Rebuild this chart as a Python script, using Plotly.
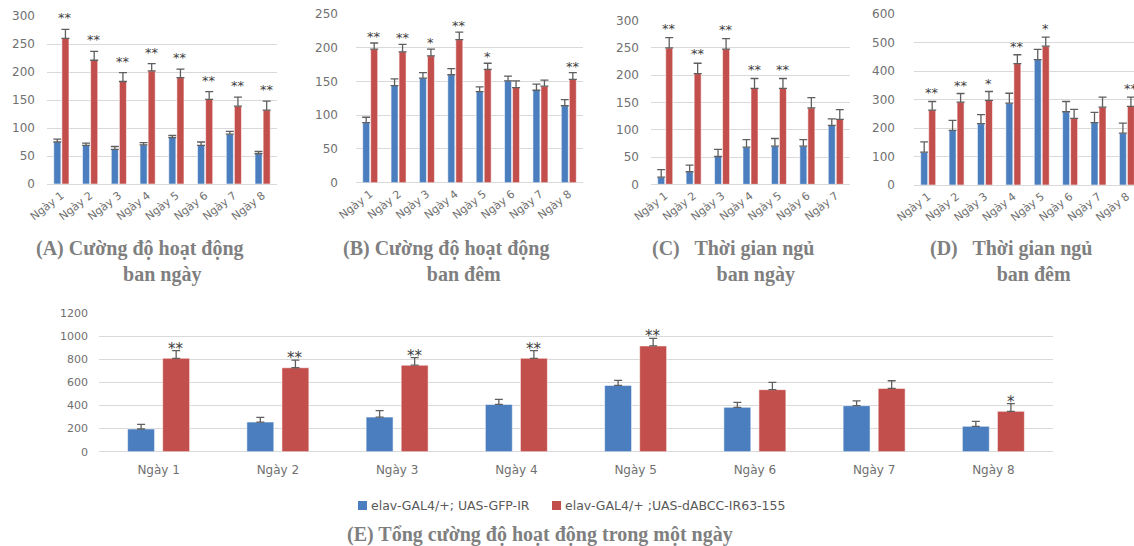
import plotly.graph_objects as go

# ---------------- data ----------------
days8 = ["Ngày 1", "Ngày 2", "Ngày 3", "Ngày 4", "Ngày 5", "Ngày 6", "Ngày 7", "Ngày 8"]
days7 = ["Ngày 1", "Ngày 2", "Ngày 3", "Ngày 4", "Ngày 5", "Ngày 6", "Ngày 7"]

series_names = ["elav-GAL4/+; UAS-GFP-IR", "elav-GAL4/+ ;UAS-dABCC-IR63-155"]

# (A) Cường độ hoạt động ban ngày
A_ctrl = [75, 69, 62, 70, 83, 69, 89, 54]
A_ctrl_err = [5, 4, 5, 4, 4, 6, 5, 4]
A_kd = [260, 221, 183, 202, 190, 151, 139, 132]
A_kd_err = [16, 16, 16, 13, 15, 14, 16, 16]
A_sig = ["**", "**", "**", "**", "**", "**", "**", "**"]

# (B) Cường độ hoạt động ban đêm
B_ctrl = [89, 144, 155, 160, 135, 151, 137, 114]
B_ctrl_err = [8, 10, 8, 9, 7, 7, 9, 9]
B_kd = [198, 194, 188, 212, 168, 141, 143, 153]
B_kd_err = [9, 11, 10, 11, 9, 10, 9, 10]
B_sig = ["**", "**", "*", "**", "*", "", "", "**"]

# (C) Thời gian ngủ ban ngày
C_ctrl = [13, 23, 51, 68, 70, 70, 108]
C_ctrl_err = [14, 12, 13, 14, 14, 12, 12]
C_kd = [250, 203, 248, 176, 176, 140, 119]
C_kd_err = [19, 19, 19, 18, 18, 19, 18]
C_sig = ["**", "**", "**", "**", "**", "", ""]

# (D) Thời gian ngủ ban đêm
D_ctrl = [115, 192, 215, 287, 440, 257, 219, 182]
D_ctrl_err = [36, 35, 32, 35, 36, 36, 36, 35]
D_kd = [263, 291, 297, 426, 487, 234, 273, 276]
D_kd_err = [30, 30, 31, 31, 32, 31, 35, 32]
D_sig = ["**", "**", "*", "**", "*", "", "", "**"]

# (E) Tổng cường độ hoạt động trong một ngày
E_ctrl = [197, 257, 300, 410, 575, 385, 399, 220]
E_ctrl_err = [40, 40, 57, 44, 44, 43, 41, 43]
E_kd = [810, 728, 750, 810, 917, 538, 549, 350]
E_kd_err = [67, 66, 66, 67, 66, 63, 66, 66]
E_sig = ["**", "**", "**", "**", "**", "", "", "*"]

# ---------------- style ----------------
W, H = 1134, 546
BLUE = "#4a7ebf"
RED = "#c34f4d"
ERR = "#5f5f5f"
GRID = "#d9d9d9"
TICK = "#707070"
CAP = "#7f7f7f"
SANS = "DejaVu Sans"
SERIF = "Liberation Serif"

fig = go.Figure()


def px_x(x):
    return x / W


def px_y(y):
    return 1 - y / H


panels = [
    # name, cats, ctrl, ctrl_err, kd, kd_err, sig, xpx, ypx(top,bottom), ymax, dtick, xrange, standoff, small, ashift
    ("1", days8, A_ctrl, A_ctrl_err, A_kd, A_kd_err, A_sig, (47, 277), (16, 184), 300, 50, None, 11, True, 2),
    ("2", days8, B_ctrl, B_ctrl_err, B_kd, B_kd_err, B_sig, (356, 583), (14, 182.7), 250, 50, None, 17, True, -3),
    ("3", days7, C_ctrl, C_ctrl_err, C_kd, C_kd_err, C_sig, (651, 850), (20.7, 184.3), 300, 50, None, 11, True, 0),
    ("4", days8, D_ctrl, D_ctrl_err, D_kd, D_kd_err, D_sig, (914, 1134), (14, 185), 600, 100, [-0.5, 7.25], 18, True, -1),
    ("5", days8, E_ctrl, E_ctrl_err, E_kd, E_kd_err, E_sig, (99, 1053), (313.3, 451.7), 1200, 200, None, 10, False, -9),
]

annotations = []
shapes = []
for (name, cats, ctrl, ctrl_err, kd, kd_err, sig, xpx, ypx, ymax, dtick,
     xrange_, standoff, small, ashift) in panels:
    xa = "x" if name == "1" else "x" + name
    ya = "y" if name == "1" else "y" + name
    if small:
        bw, boff_b, boff_r, capw, thick = 0.246, -0.264, 0.018, 4, 1.3
        afs = 13
    else:
        bw, boff_b, boff_r, capw, thick = 0.226, -0.26, 0.034, 4, 1.3
        afs = 15
    fig.add_trace(go.Bar(
        x=cats, y=ctrl, name=series_names[0], showlegend=False,
        width=bw, offset=boff_b, xaxis=xa, yaxis=ya,
        marker=dict(color=BLUE, line=dict(color="rgba(255,255,255,0.55)", width=1)),
        error_y=dict(type="data", array=ctrl_err, arrayminus=[0] * len(ctrl_err),
                     symmetric=False, color=ERR, thickness=thick, width=capw),
    ))
    fig.add_trace(go.Bar(
        x=cats, y=kd, name=series_names[1], showlegend=False,
        width=bw, offset=boff_r, xaxis=xa, yaxis=ya,
        marker=dict(color=RED, line=dict(color="rgba(255,255,255,0.55)", width=1)),
        error_y=dict(type="data", array=kd_err, arrayminus=[0] * len(kd_err),
                     symmetric=False, color=ERR, thickness=thick, width=capw),
    ))
    rc = boff_r + bw / 2
    for i, s in enumerate(sig):
        if s:
            annotations.append(dict(
                x=i + rc, y=kd[i] + kd_err[i], xref=xa, yref=ya, text=s,
                showarrow=False, yanchor="bottom", xanchor="center", yshift=ashift,
                font=dict(family=SANS, size=afs, color="#404040"),
            ))
    xkey = "xaxis" if name == "1" else "xaxis" + name
    ykey = "yaxis" if name == "1" else "yaxis" + name
    xr = xrange_ if xrange_ is not None else [-0.5, len(cats) - 0.5]
    fig.update_layout(**{
        xkey: dict(
            domain=[px_x(xpx[0]), min(1.0, px_x(xpx[1]))], anchor=ya, type="category",
            range=xr, showgrid=False, zeroline=False, showline=False, ticks="",
            tickangle=-38 if small else 0, automargin=False,
            tickfont=dict(family=SANS, size=11 if small else 12, color=TICK),
            ticklabelstandoff=2 if small else 9,
        ),
        ykey: dict(
            domain=[px_y(ypx[1]), px_y(ypx[0])], anchor=xa, range=[0, ymax], dtick=dtick,
            showgrid=True, gridcolor=GRID, gridwidth=1, zeroline=True, automargin=False,
            zerolinecolor=GRID, zerolinewidth=1, showline=False, ticks="",
            tickfont=dict(family=SANS, size=12 if small else 11, color=TICK),
            ticklabelstandoff=standoff,
        ),
    })

# captions (two-line panel captions use one annotation each)
NB = "\u00a0"
captions = [
    ("(A) Cường độ hoạt động<br>" + NB * 9 + "ban ngày", 140, 261),
    ("(B) Cường độ hoạt động<br>" + NB * 7 + "ban đêm", 446, 261),
    ("(C)" + NB * 2 + " Thời gian ngủ<br>" + NB * 9 + "ban ngày", 733, 261),
    ("(D)" + NB * 2 + " Thời gian ngủ<br>" + NB * 9 + "ban đêm", 1011, 261),
    ("(E) Tổng cường độ hoạt động trong một ngày", 540, 534),
]
for txt, cx, cy in captions:
    annotations.append(dict(
        x=px_x(cx), y=px_y(cy), xref="paper", yref="paper", text=txt,
        showarrow=False, xanchor="center", yanchor="middle", align="center",
        font=dict(family=SERIF, size=20, color=CAP, weight="bold"),
    ))

# legend for panel E (drawn as swatches + text)
legend_items = [(358, BLUE, series_names[0]), (552, RED, series_names[1])]
for lx, col, label in legend_items:
    shapes.append(dict(type="rect", xref="paper", yref="paper",
                       x0=px_x(lx), x1=px_x(lx + 9), y0=px_y(510), y1=px_y(501),
                       fillcolor=col, line=dict(width=0)))
    annotations.append(dict(
        x=px_x(lx + 11), y=px_y(505.5), xref="paper", yref="paper", text=label,
        showarrow=False, xanchor="left", yanchor="middle",
        font=dict(family=SANS, size=12.5, color="#595959"),
    ))

fig.update_layout(
    width=W, height=H, margin=dict(l=0, r=0, t=0, b=0),
    paper_bgcolor="white", plot_bgcolor="white",
    barmode="overlay", showlegend=False,
    annotations=annotations, shapes=shapes,
)

fig.write_html("out.html",
               config={"displayModeBar": False},
               post_script="document.body.style.margin='0px';document.body.style.overflow='hidden';")
